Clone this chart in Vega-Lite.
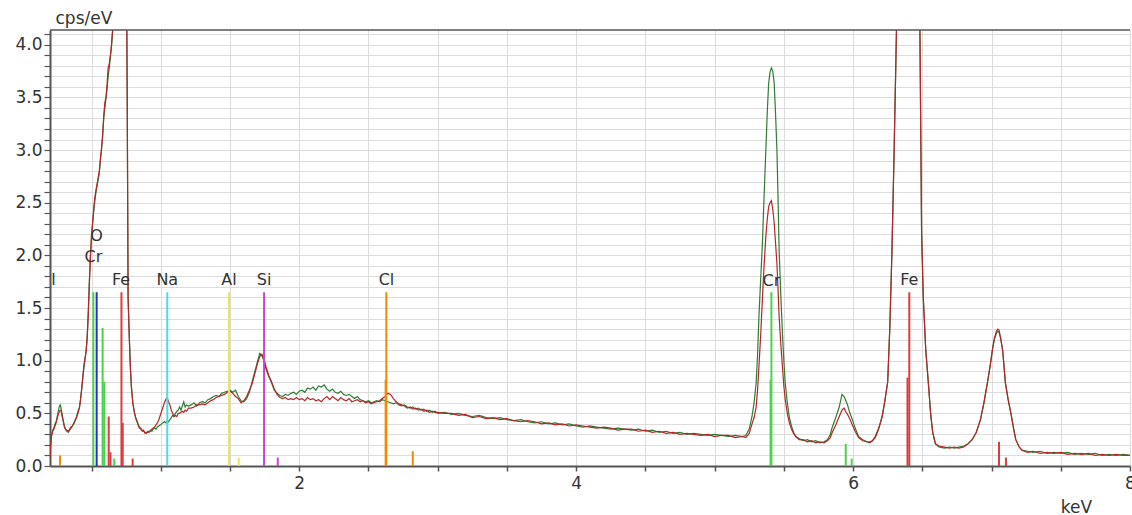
{
  "$schema": "https://vega.github.io/schema/vega-lite/v6.json",
  "width": 1080,
  "height": 436,
  "autosize": "none",
  "padding": {"left": 50, "top": 30, "right": 2, "bottom": 49},
  "background": "white",
  "config": {"view": {"stroke": null}, "font": "DejaVu Sans"},
  "datasets": {
    "spectrum": [
      {"keV":0.195,"green":0,"red":0},{"keV":0.2,"green":0.12,"red":0.1},{"keV":0.205,"green":0.22,"red":0.2},{"keV":0.212,"green":0.3,"red":0.29},{"keV":0.22,"green":0.34,"red":0.33},{"keV":0.228,"green":0.36,"red":0.35},{"keV":0.236,"green":0.4,"red":0.38},{"keV":0.244,"green":0.42,"red":0.41},{"keV":0.252,"green":0.47,"red":0.45},{"keV":0.26,"green":0.52,"red":0.49},{"keV":0.268,"green":0.57,"red":0.52},{"keV":0.274,"green":0.58,"red":0.53},{"keV":0.28,"green":0.55,"red":0.52},{"keV":0.288,"green":0.49,"red":0.47},{"keV":0.296,"green":0.42,"red":0.43},{"keV":0.304,"green":0.38,"red":0.37},{"keV":0.312,"green":0.35,"red":0.35},{"keV":0.322,"green":0.33,"red":0.34},{"keV":0.332,"green":0.32,"red":0.33},{"keV":0.342,"green":0.34,"red":0.35},{"keV":0.352,"green":0.36,"red":0.37},{"keV":0.362,"green":0.38,"red":0.38},{"keV":0.372,"green":0.4,"red":0.41},{"keV":0.382,"green":0.44,"red":0.43},{"keV":0.392,"green":0.47,"red":0.46},{"keV":0.402,"green":0.52,"red":0.5},{"keV":0.412,"green":0.55,"red":0.55},{"keV":0.42,"green":0.63,"red":0.62},{"keV":0.428,"green":0.72,"red":0.72},{"keV":0.436,"green":0.84,"red":0.82},{"keV":0.444,"green":0.92,"red":0.95},{"keV":0.452,"green":1.0,"red":1.02},{"keV":0.46,"green":1.08,"red":1.08},{"keV":0.468,"green":1.22,"red":1.2},{"keV":0.476,"green":1.45,"red":1.42},{"keV":0.484,"green":1.75,"red":1.72},{"keV":0.492,"green":2.0,"red":1.98},{"keV":0.5,"green":2.18,"red":2.2},{"keV":0.508,"green":2.32,"red":2.3},{"keV":0.516,"green":2.42,"red":2.45},{"keV":0.524,"green":2.52,"red":2.55},{"keV":0.532,"green":2.6,"red":2.62},{"keV":0.54,"green":2.66,"red":2.68},{"keV":0.548,"green":2.72,"red":2.74},{"keV":0.556,"green":2.78,"red":2.8},{"keV":0.564,"green":2.9,"red":2.92},{"keV":0.572,"green":3.0,"red":3.02},{"keV":0.58,"green":3.15,"red":3.12},{"keV":0.588,"green":3.3,"red":3.32},{"keV":0.596,"green":3.4,"red":3.45},{"keV":0.604,"green":3.48,"red":3.5},{"keV":0.612,"green":3.58,"red":3.62},{"keV":0.62,"green":3.7,"red":3.78},{"keV":0.628,"green":3.78,"red":3.82},{"keV":0.636,"green":3.88,"red":3.9},{"keV":0.644,"green":3.98,"red":4.0},{"keV":0.652,"green":4.12,"red":4.14},{"keV":0.66,"green":4.4,"red":4.42},{"keV":0.68,"green":5.2,"red":5.2},{"keV":0.7,"green":6.0,"red":6.0},{"keV":0.72,"green":6.2,"red":6.2},{"keV":0.74,"green":5.6,"red":5.6},{"keV":0.752,"green":4.8,"red":4.8},{"keV":0.758,"green":3.4,"red":3.4},{"keV":0.764,"green":1.6,"red":1.6},{"keV":0.772,"green":1.25,"red":1.25},{"keV":0.78,"green":0.95,"red":0.95},{"keV":0.788,"green":0.75,"red":0.75},{"keV":0.798,"green":0.6,"red":0.6},{"keV":0.808,"green":0.52,"red":0.52},{"keV":0.818,"green":0.46,"red":0.46},{"keV":0.828,"green":0.42,"red":0.43},{"keV":0.836,"green":0.4,"red":0.39},{"keV":0.846,"green":0.37,"red":0.36},{"keV":0.856,"green":0.36,"red":0.35},{"keV":0.866,"green":0.34,"red":0.33},{"keV":0.876,"green":0.33,"red":0.34},{"keV":0.886,"green":0.32,"red":0.31},{"keV":0.896,"green":0.31,"red":0.32},{"keV":0.906,"green":0.33,"red":0.32},{"keV":0.916,"green":0.32,"red":0.33},{"keV":0.926,"green":0.34,"red":0.33},{"keV":0.936,"green":0.33,"red":0.35},{"keV":0.946,"green":0.35,"red":0.36},{"keV":0.956,"green":0.36,"red":0.37},{"keV":0.966,"green":0.35,"red":0.39},{"keV":0.976,"green":0.37,"red":0.41},{"keV":0.986,"green":0.38,"red":0.44},{"keV":0.996,"green":0.39,"red":0.48},{"keV":1.006,"green":0.4,"red":0.52},{"keV":1.016,"green":0.41,"red":0.56},{"keV":1.026,"green":0.42,"red":0.6},{"keV":1.036,"green":0.41,"red":0.63},{"keV":1.046,"green":0.43,"red":0.65},{"keV":1.056,"green":0.42,"red":0.61},{"keV":1.066,"green":0.44,"red":0.58},{"keV":1.076,"green":0.46,"red":0.53},{"keV":1.086,"green":0.48,"red":0.5},{"keV":1.096,"green":0.47,"red":0.47},{"keV":1.106,"green":0.5,"red":0.48},{"keV":1.116,"green":0.52,"red":0.47},{"keV":1.126,"green":0.53,"red":0.5},{"keV":1.136,"green":0.56,"red":0.5},{"keV":1.146,"green":0.53,"red":0.51},{"keV":1.156,"green":0.57,"red":0.52},{"keV":1.166,"green":0.61,"red":0.51},{"keV":1.176,"green":0.56,"red":0.53},{"keV":1.186,"green":0.58,"red":0.52},{"keV":1.2,"green":0.57,"red":0.55},{"keV":1.22,"green":0.58,"red":0.55},{"keV":1.24,"green":0.6,"red":0.56},{"keV":1.26,"green":0.57,"red":0.58},{"keV":1.28,"green":0.6,"red":0.58},{"keV":1.3,"green":0.61,"red":0.59},{"keV":1.32,"green":0.6,"red":0.58},{"keV":1.34,"green":0.63,"red":0.6},{"keV":1.36,"green":0.64,"red":0.62},{"keV":1.38,"green":0.66,"red":0.63},{"keV":1.4,"green":0.67,"red":0.65},{"keV":1.42,"green":0.66,"red":0.66},{"keV":1.44,"green":0.69,"red":0.67},{"keV":1.46,"green":0.7,"red":0.68},{"keV":1.48,"green":0.71,"red":0.7},{"keV":1.5,"green":0.72,"red":0.71},{"keV":1.52,"green":0.7,"red":0.69},{"keV":1.54,"green":0.72,"red":0.66},{"keV":1.56,"green":0.66,"red":0.64},{"keV":1.58,"green":0.62,"red":0.6},{"keV":1.6,"green":0.61,"red":0.62},{"keV":1.62,"green":0.64,"red":0.66},{"keV":1.64,"green":0.7,"red":0.72},{"keV":1.66,"green":0.8,"red":0.78},{"keV":1.68,"green":0.9,"red":0.88},{"keV":1.7,"green":1.0,"red":0.98},{"keV":1.715,"green":1.07,"red":1.04},{"keV":1.73,"green":1.05,"red":1.06},{"keV":1.745,"green":1.0,"red":1.02},{"keV":1.76,"green":0.92,"red":0.94},{"keV":1.78,"green":0.85,"red":0.86},{"keV":1.8,"green":0.79,"red":0.8},{"keV":1.82,"green":0.72,"red":0.73},{"keV":1.84,"green":0.69,"red":0.68},{"keV":1.86,"green":0.67,"red":0.65},{"keV":1.88,"green":0.66,"red":0.64},{"keV":1.9,"green":0.68,"red":0.65},{"keV":1.92,"green":0.67,"red":0.63},{"keV":1.94,"green":0.69,"red":0.64},{"keV":1.96,"green":0.7,"red":0.63},{"keV":1.98,"green":0.68,"red":0.65},{"keV":2.0,"green":0.71,"red":0.63},{"keV":2.02,"green":0.72,"red":0.64},{"keV":2.04,"green":0.7,"red":0.62},{"keV":2.06,"green":0.74,"red":0.65},{"keV":2.08,"green":0.73,"red":0.63},{"keV":2.1,"green":0.75,"red":0.64},{"keV":2.12,"green":0.72,"red":0.62},{"keV":2.14,"green":0.76,"red":0.63},{"keV":2.16,"green":0.75,"red":0.61},{"keV":2.18,"green":0.77,"red":0.64},{"keV":2.2,"green":0.73,"red":0.66},{"keV":2.22,"green":0.71,"red":0.63},{"keV":2.24,"green":0.73,"red":0.66},{"keV":2.26,"green":0.7,"red":0.64},{"keV":2.28,"green":0.69,"red":0.62},{"keV":2.3,"green":0.71,"red":0.65},{"keV":2.32,"green":0.68,"red":0.63},{"keV":2.34,"green":0.67,"red":0.62},{"keV":2.36,"green":0.68,"red":0.64},{"keV":2.38,"green":0.66,"red":0.61},{"keV":2.4,"green":0.64,"red":0.62},{"keV":2.42,"green":0.66,"red":0.63},{"keV":2.44,"green":0.63,"red":0.61},{"keV":2.46,"green":0.62,"red":0.62},{"keV":2.48,"green":0.61,"red":0.6},{"keV":2.5,"green":0.62,"red":0.61},{"keV":2.52,"green":0.6,"red":0.59},{"keV":2.54,"green":0.61,"red":0.6},{"keV":2.56,"green":0.62,"red":0.61},{"keV":2.58,"green":0.61,"red":0.62},{"keV":2.6,"green":0.63,"red":0.64},{"keV":2.62,"green":0.62,"red":0.66},{"keV":2.64,"green":0.61,"red":0.69},{"keV":2.66,"green":0.6,"red":0.68},{"keV":2.68,"green":0.59,"red":0.64},{"keV":2.7,"green":0.6,"red":0.61},{"keV":2.72,"green":0.58,"red":0.59},{"keV":2.74,"green":0.57,"red":0.58},{"keV":2.76,"green":0.58,"red":0.57},{"keV":2.78,"green":0.56,"red":0.55},{"keV":2.8,"green":0.55,"red":0.56},{"keV":2.82,"green":0.56,"red":0.54},{"keV":2.84,"green":0.54,"red":0.55},{"keV":2.86,"green":0.55,"red":0.53},{"keV":2.88,"green":0.53,"red":0.54},{"keV":2.9,"green":0.54,"red":0.52},{"keV":2.92,"green":0.52,"red":0.53},{"keV":2.94,"green":0.53,"red":0.51},{"keV":2.96,"green":0.51,"red":0.52},{"keV":2.98,"green":0.52,"red":0.51},{"keV":3.0,"green":0.5,"red":0.51},{"keV":3.05,"green":0.51,"red":0.5},{"keV":3.1,"green":0.49,"red":0.5},{"keV":3.15,"green":0.5,"red":0.48},{"keV":3.2,"green":0.48,"red":0.49},{"keV":3.25,"green":0.47,"red":0.46},{"keV":3.3,"green":0.48,"red":0.47},{"keV":3.35,"green":0.46,"red":0.45},{"keV":3.4,"green":0.45,"red":0.46},{"keV":3.45,"green":0.46,"red":0.44},{"keV":3.5,"green":0.44,"red":0.45},{"keV":3.55,"green":0.43,"red":0.43},{"keV":3.6,"green":0.44,"red":0.42},{"keV":3.65,"green":0.42,"red":0.43},{"keV":3.7,"green":0.41,"red":0.42},{"keV":3.75,"green":0.42,"red":0.4},{"keV":3.8,"green":0.4,"red":0.41},{"keV":3.85,"green":0.41,"red":0.39},{"keV":3.9,"green":0.39,"red":0.4},{"keV":3.95,"green":0.4,"red":0.38},{"keV":4.0,"green":0.38,"red":0.39},{"keV":4.05,"green":0.37,"red":0.38},{"keV":4.1,"green":0.38,"red":0.37},{"keV":4.15,"green":0.37,"red":0.36},{"keV":4.2,"green":0.36,"red":0.37},{"keV":4.25,"green":0.35,"red":0.36},{"keV":4.3,"green":0.36,"red":0.34},{"keV":4.35,"green":0.35,"red":0.35},{"keV":4.4,"green":0.34,"red":0.35},{"keV":4.45,"green":0.35,"red":0.33},{"keV":4.5,"green":0.33,"red":0.34},{"keV":4.55,"green":0.34,"red":0.32},{"keV":4.6,"green":0.32,"red":0.33},{"keV":4.65,"green":0.33,"red":0.31},{"keV":4.7,"green":0.31,"red":0.32},{"keV":4.75,"green":0.32,"red":0.3},{"keV":4.8,"green":0.3,"red":0.31},{"keV":4.85,"green":0.31,"red":0.3},{"keV":4.9,"green":0.3,"red":0.29},{"keV":4.95,"green":0.29,"red":0.3},{"keV":5.0,"green":0.3,"red":0.28},{"keV":5.05,"green":0.29,"red":0.29},{"keV":5.1,"green":0.28,"red":0.29},{"keV":5.15,"green":0.29,"red":0.27},{"keV":5.2,"green":0.28,"red":0.28},{"keV":5.225,"green":0.29,"red":0.27},{"keV":5.25,"green":0.35,"red":0.31},{"keV":5.27,"green":0.47,"red":0.4},{"keV":5.285,"green":0.6,"red":0.46},{"keV":5.3,"green":0.79,"red":0.56},{"keV":5.31,"green":1.05,"red":0.72},{"keV":5.32,"green":1.42,"red":0.94},{"keV":5.333,"green":1.78,"red":1.25},{"keV":5.345,"green":2.11,"red":1.58},{"keV":5.357,"green":2.55,"red":1.9},{"keV":5.37,"green":3.0,"red":2.18},{"keV":5.38,"green":3.35,"red":2.34},{"keV":5.39,"green":3.63,"red":2.46},{"keV":5.4,"green":3.74,"red":2.5},{"keV":5.41,"green":3.78,"red":2.52},{"keV":5.42,"green":3.75,"red":2.44},{"keV":5.43,"green":3.64,"red":2.31},{"keV":5.44,"green":3.35,"red":2.12},{"keV":5.45,"green":3.0,"red":1.92},{"keV":5.458,"green":2.55,"red":1.68},{"keV":5.466,"green":2.05,"red":1.42},{"keV":5.478,"green":1.62,"red":1.16},{"keV":5.49,"green":1.26,"red":0.94},{"keV":5.5,"green":1.0,"red":0.76},{"keV":5.51,"green":0.79,"red":0.63},{"keV":5.525,"green":0.6,"red":0.5},{"keV":5.54,"green":0.46,"red":0.41},{"keV":5.555,"green":0.38,"red":0.35},{"keV":5.57,"green":0.32,"red":0.31},{"keV":5.586,"green":0.28,"red":0.28},{"keV":5.61,"green":0.26,"red":0.25},{"keV":5.64,"green":0.24,"red":0.25},{"keV":5.67,"green":0.25,"red":0.23},{"keV":5.7,"green":0.23,"red":0.24},{"keV":5.73,"green":0.24,"red":0.22},{"keV":5.76,"green":0.22,"red":0.23},{"keV":5.79,"green":0.23,"red":0.22},{"keV":5.815,"green":0.25,"red":0.24},{"keV":5.835,"green":0.3,"red":0.27},{"keV":5.85,"green":0.37,"red":0.32},{"keV":5.875,"green":0.46,"red":0.39},{"keV":5.9,"green":0.56,"red":0.47},{"keV":5.92,"green":0.68,"red":0.53},{"keV":5.935,"green":0.66,"red":0.55},{"keV":5.945,"green":0.63,"red":0.52},{"keV":5.96,"green":0.58,"red":0.49},{"keV":5.975,"green":0.51,"red":0.45},{"keV":5.995,"green":0.44,"red":0.39},{"keV":6.015,"green":0.36,"red":0.33},{"keV":6.04,"green":0.28,"red":0.27},{"keV":6.07,"green":0.25,"red":0.24},{"keV":6.1,"green":0.23,"red":0.23},{"keV":6.12,"green":0.23,"red":0.22},{"keV":6.14,"green":0.24,"red":0.24},{"keV":6.16,"green":0.28,"red":0.27},{"keV":6.185,"green":0.36,"red":0.35},{"keV":6.21,"green":0.47,"red":0.47},{"keV":6.23,"green":0.62,"red":0.62},{"keV":6.25,"green":0.8,"red":0.8},{"keV":6.265,"green":1.3,"red":1.3},{"keV":6.28,"green":2.0,"red":2.0},{"keV":6.295,"green":2.9,"red":2.9},{"keV":6.31,"green":3.9,"red":3.9},{"keV":6.32,"green":4.6,"red":4.6},{"keV":6.35,"green":7.0,"red":7.0},{"keV":6.4,"green":9.0,"red":9.0},{"keV":6.44,"green":8.0,"red":8.0},{"keV":6.465,"green":6.0,"red":6.0},{"keV":6.483,"green":4.1,"red":4.1},{"keV":6.495,"green":2.2,"red":2.2},{"keV":6.507,"green":1.6,"red":1.6},{"keV":6.525,"green":1.1,"red":1.1},{"keV":6.543,"green":0.8,"red":0.8},{"keV":6.56,"green":0.5,"red":0.5},{"keV":6.575,"green":0.32,"red":0.32},{"keV":6.595,"green":0.21,"red":0.21},{"keV":6.62,"green":0.18,"red":0.19},{"keV":6.66,"green":0.17,"red":0.18},{"keV":6.7,"green":0.18,"red":0.17},{"keV":6.73,"green":0.17,"red":0.18},{"keV":6.765,"green":0.18,"red":0.17},{"keV":6.8,"green":0.19,"red":0.18},{"keV":6.83,"green":0.21,"red":0.21},{"keV":6.86,"green":0.25,"red":0.25},{"keV":6.89,"green":0.32,"red":0.32},{"keV":6.92,"green":0.44,"red":0.44},{"keV":6.945,"green":0.6,"red":0.6},{"keV":6.97,"green":0.79,"red":0.79},{"keV":6.99,"green":0.95,"red":0.95},{"keV":7.006,"green":1.1,"red":1.1},{"keV":7.02,"green":1.2,"red":1.21},{"keV":7.035,"green":1.26,"red":1.28},{"keV":7.045,"green":1.28,"red":1.3},{"keV":7.054,"green":1.27,"red":1.29},{"keV":7.065,"green":1.22,"red":1.22},{"keV":7.08,"green":1.1,"red":1.1},{"keV":7.09,"green":0.95,"red":0.95},{"keV":7.1,"green":0.79,"red":0.79},{"keV":7.12,"green":0.63,"red":0.63},{"keV":7.14,"green":0.5,"red":0.5},{"keV":7.16,"green":0.35,"red":0.35},{"keV":7.175,"green":0.25,"red":0.25},{"keV":7.2,"green":0.18,"red":0.18},{"keV":7.22,"green":0.15,"red":0.15},{"keV":7.26,"green":0.14,"red":0.13},{"keV":7.3,"green":0.13,"red":0.14},{"keV":7.35,"green":0.14,"red":0.12},{"keV":7.4,"green":0.12,"red":0.13},{"keV":7.45,"green":0.13,"red":0.12},{"keV":7.5,"green":0.12,"red":0.13},{"keV":7.55,"green":0.13,"red":0.11},{"keV":7.6,"green":0.11,"red":0.12},{"keV":7.65,"green":0.12,"red":0.11},{"keV":7.7,"green":0.11,"red":0.12},{"keV":7.75,"green":0.12,"red":0.1},{"keV":7.8,"green":0.1,"red":0.11},{"keV":7.85,"green":0.11,"red":0.1},{"keV":7.9,"green":0.1,"red":0.11},{"keV":7.95,"green":0.11,"red":0.1},{"keV":8.0,"green":0.1,"red":0.1}
    ],
    "lines": [
      {"keV":0.272,"h":0.1,"el":"Cl"},
      {"keV":0.513,"h":1.65,"el":"Cr"},
      {"keV":0.537,"h":1.65,"el":"O"},
      {"keV":0.58,"h":1.31,"el":"Cr"},
      {"keV":0.592,"h":0.8,"el":"Cr"},
      {"keV":0.624,"h":0.47,"el":"Fe"},
      {"keV":0.637,"h":0.13,"el":"Fe"},
      {"keV":0.664,"h":0.07,"el":"Cr"},
      {"keV":0.716,"h":1.65,"el":"Fe"},
      {"keV":0.725,"h":0.41,"el":"Fe"},
      {"keV":0.797,"h":0.07,"el":"Fe"},
      {"keV":1.047,"h":1.65,"el":"Na"},
      {"keV":1.493,"h":1.65,"el":"Al"},
      {"keV":1.563,"h":0.08,"el":"Al"},
      {"keV":1.746,"h":1.65,"el":"Si"},
      {"keV":1.845,"h":0.08,"el":"Si"},
      {"keV":2.629,"h":1.65,"el":"Cl"},
      {"keV":2.624,"h":0.82,"el":"Cl"},
      {"keV":2.82,"h":0.14,"el":"Cl"},
      {"keV":5.41,"h":1.65,"el":"Cr"},
      {"keV":5.404,"h":0.82,"el":"Cr"},
      {"keV":5.947,"h":0.21,"el":"Cr"},
      {"keV":5.99,"h":0.07,"el":"Cr"},
      {"keV":6.406,"h":1.65,"el":"Fe"},
      {"keV":6.393,"h":0.84,"el":"Fe"},
      {"keV":7.054,"h":0.23,"el":"Fe"},
      {"keV":7.104,"h":0.08,"el":"Fe"}
    ],
    "labels": [
      {"keV":0.185,"v":1.77,"label":"Cl"},
      {"keV":0.537,"v":2.18,"label":"O"},
      {"keV":0.513,"v":1.98,"label":"Cr"},
      {"keV":0.713,"v":1.77,"label":"Fe"},
      {"keV":1.047,"v":1.77,"label":"Na"},
      {"keV":1.493,"v":1.77,"label":"Al"},
      {"keV":1.746,"v":1.77,"label":"Si"},
      {"keV":2.63,"v":1.77,"label":"Cl"},
      {"keV":5.41,"v":1.76,"label":"Cr"},
      {"keV":6.406,"v":1.77,"label":"Fe"}
    ]
  },
  "layer": [
    {
      "data": {"name": "spectrum"},
      "mark": {"type": "line", "color": "#2e7d32", "strokeWidth": 1.2, "clip": true},
      "encoding": {
        "x": {
          "field": "keV", "type": "quantitative",
          "scale": {"domain": [0.2, 8], "nice": false, "zero": false},
          "axis": {
            "title": "keV",
            "values": [0.5,1,1.5,2,2.5,3,3.5,4,4.5,5,5.5,6,6.5,7,7.5,8],
            "tickCount": 100,
            "labelExpr": "datum.value % 2 == 0 ? format(datum.value, 'd') : ''",
            "grid": true, "gridColor": "#dcdcdc", "gridWidth": 1,
            "domainColor": "#555", "domainWidth": 2,
            "tickColor": "#555", "tickSize": 5, "tickWidth": 1.5,
            "labelFontSize": 17, "labelColor": "#333", "labelPadding": 4, "labelFlush": false, "labelOverlap": false,
            "titleFontSize": 17, "titleFontWeight": "normal", "titleColor": "#333",
            "titleX": 1026, "titleY": 41, "titleAlign": "center", "titleBaseline": "middle"
          }
        },
        "y": {
          "field": "green", "type": "quantitative",
          "scale": {"domain": [0, 4.14], "nice": false, "zero": true},
          "axis": {
            "title": "cps/eV",
            "values": [0,0.1,0.2,0.3,0.4,0.5,0.6,0.7,0.8,0.9,1,1.1,1.2,1.3,1.4,1.5,1.6,1.7,1.8,1.9,2,2.1,2.2,2.3,2.4,2.5,2.6,2.7,2.8,2.9,3,3.1,3.2,3.3,3.4,3.5,3.6,3.7,3.8,3.9,4,4.1],
            "tickCount": 100,
            "labelExpr": "abs(datum.value*2 - round(datum.value*2)) < 0.001 ? format(datum.value, '.1f') : ''",
            "grid": true, "gridColor": "#dcdcdc", "gridWidth": 1,
            "domainColor": "#555", "domainWidth": 2,
            "tickColor": "#555", "tickSize": 6, "tickWidth": 1.2,
            "labelFontSize": 17, "labelColor": "#333", "labelPadding": 2, "labelOverlap": false,
            "titleFontSize": 17, "titleFontWeight": "normal", "titleColor": "#333",
            "titleAngle": 0, "titleX": 5, "titleY": -12, "titleAlign": "left", "titleBaseline": "middle"
          }
        }
      }
    },
    {
      "data": {"name": "spectrum"},
      "mark": {"type": "line", "color": "#b3262a", "strokeWidth": 1.2, "clip": true},
      "encoding": {
        "x": {"field": "keV", "type": "quantitative"},
        "y": {"field": "red", "type": "quantitative"}
      }
    },
    {
      "data": {"name": "lines"},
      "mark": {"type": "rule", "strokeWidth": 2, "clip": true},
      "encoding": {
        "x": {"field": "keV", "type": "quantitative"},
        "y": {"field": "h", "type": "quantitative"},
        "y2": {"datum": 0},
        "color": {
          "field": "el", "type": "nominal", "legend": null,
          "scale": {"domain": ["Cr","O","Fe","Na","Al","Si","Cl"], "range": ["#4cd24c","#2233cc","#dd3c3c","#4fd8e8","#e6e65c","#cc44cc","#f28a00"]}
        }
      }
    },
    {
      "data": {"name": "labels"},
      "mark": {"type": "text", "fontSize": 16, "color": "#333", "clip": true, "align": "center", "baseline": "middle"},
      "encoding": {
        "x": {"field": "keV", "type": "quantitative"},
        "y": {"field": "v", "type": "quantitative"},
        "text": {"field": "label"}
      }
    },
    {
      "data": {"values": [{}]},
      "mark": {"type": "rule", "color": "#555", "strokeWidth": 1.5},
      "encoding": {"y": {"datum": 4.14}}
    }
  ]
}
